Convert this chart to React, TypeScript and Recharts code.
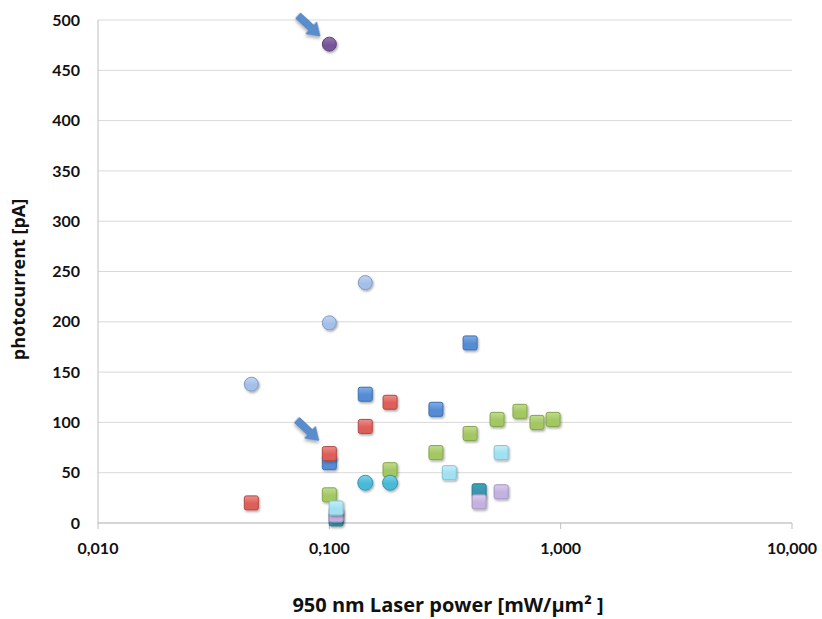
import React from 'react';
import { ScatterChart, Scatter, XAxis, YAxis, CartesianGrid, Label } from 'recharts';

// ---- data ----
const xTicks = [0.01, 0.1, 1, 10];
const yTicks = [0, 50, 100, 150, 200, 250, 300, 350, 400, 450, 500];

const purpleCircles = [{ x: 0.1, y: 476 }];
const lightBlueCircles = [
  { x: 0.046, y: 138 },
  { x: 0.1, y: 199 },
  { x: 0.143, y: 239 },
];
const blueSquares = [
  { x: 0.1, y: 60 },
  { x: 0.143, y: 128 },
  { x: 0.289, y: 113 },
  { x: 0.406, y: 179 },
];
const redSquares = [
  { x: 0.046, y: 20 },
  { x: 0.1, y: 69 },
  { x: 0.143, y: 96 },
  { x: 0.183, y: 120 },
];
const greenSquares = [
  { x: 0.1, y: 28 },
  { x: 0.183, y: 53 },
  { x: 0.289, y: 70 },
  { x: 0.406, y: 89 },
  { x: 0.531, y: 103 },
  { x: 0.667, y: 111 },
  { x: 0.79, y: 100 },
  { x: 0.927, y: 103 },
];
const cyanCircles = [
  { x: 0.143, y: 40 },
  { x: 0.183, y: 40 },
];
const tealSquares = [
  { x: 0.107, y: 4 },
  { x: 0.444, y: 32 },
];
const lavenderSquares = [
  { x: 0.107, y: 8 },
  { x: 0.444, y: 21 },
  { x: 0.553, y: 31 },
];
const lightCyanSquares = [
  { x: 0.107, y: 15 },
  { x: 0.33, y: 50 },
  { x: 0.553, y: 70 },
];
const arrowTips = [
  { x: 0.0912, y: 484 },
  { x: 0.0901, y: 82 },
];

const FONT = 'Lato, "Open Sans", sans-serif';
const TITLE_FONT = '"Open Sans", Lato, sans-serif';

const fmtX = (v: number) => v.toFixed(3).replace('.', ',');

const makeSquare = (gid: string, stroke: string) => (props: any) => {
  const { cx, cy } = props;
  if (cx == null || cy == null) return <g />;
  return (
    <rect
      x={cx - 7}
      y={cy - 7}
      width={14}
      height={14}
      rx={2}
      ry={2}
      fill={`url(#${gid})`}
      stroke={stroke}
      strokeWidth={1}
      filter="url(#mshadow)"
    />
  );
};

const makeCircle = (gid: string, stroke: string, r: number) => (props: any) => {
  const { cx, cy } = props;
  if (cx == null || cy == null) return <g />;
  return (
    <circle cx={cx} cy={cy} r={r} fill={`url(#${gid})`} stroke={stroke} strokeWidth={1} filter="url(#mshadow)" />
  );
};

const arrowShape = (props: any) => {
  const { cx, cy } = props;
  if (cx == null || cy == null) return <g />;
  const pts = '0,0 -12,-8 -12,-3.5 -30,-3.5 -30,3.5 -12,3.5 -12,8';
  return (
    <polygon
      points={pts}
      transform={`translate(${cx},${cy}) rotate(43)`}
      fill="#5a8dcc"
      stroke="#4f7fbc"
      strokeWidth={0.8}
      strokeLinejoin="round"
      filter="url(#ashadow)"
    />
  );
};

const grads: [string, string, string][] = [
  ['gPurple', '#9478ae', '#76559a'],
  ['gLightBlue', '#c3d6f3', '#a3bfea'],
  ['gBlue', '#80aee5', '#558cd4'],
  ['gRed', '#ec8f8a', '#dd5e59'],
  ['gGreen', '#c0dc90', '#a3c764'],
  ['gCyan', '#7fd2e8', '#49b9d8'],
  ['gTeal', '#3ea3ba', '#3897ad'],
  ['gLavender', '#dacdee', '#c3b1e0'],
  ['gLightCyan', '#c6eef8', '#a0e0f1'],
];

export default function App() {
  return (
    <div style={{ position: 'absolute', left: 0, top: 0, width: 822, height: 619, background: '#fff' }}>
      <ScatterChart
        width={822}
        height={619}
        margin={{ top: 20, right: 30, bottom: 0, left: 0 }}
        style={{ fontFamily: FONT }}
      >
        <defs>
          <filter id="mshadow" x="-50%" y="-50%" width="200%" height="200%">
            <feDropShadow dx="1" dy="1.5" stdDeviation="1" floodColor="#000" floodOpacity="0.35" />
          </filter>
          <filter id="ashadow" x="-50%" y="-50%" width="200%" height="200%">
            <feDropShadow dx="1.5" dy="2" stdDeviation="1.5" floodColor="#000" floodOpacity="0.3" />
          </filter>
          {grads.map(([id, top, bot]) => (
            <linearGradient key={id} id={id} x1="0" y1="0" x2="0" y2="1">
              <stop offset="0%" stopColor={top} />
              <stop offset="55%" stopColor={bot} />
              <stop offset="100%" stopColor={bot} />
            </linearGradient>
          ))}
        </defs>
        <CartesianGrid vertical={false} stroke="#d9d9d9" strokeWidth={1} />
        <XAxis
          type="number"
          dataKey="x"
          scale="log"
          domain={[0.01, 10]}
          ticks={xTicks}
          allowDataOverflow
          tickFormatter={fmtX}
          height={96}
          stroke="#bfbfbf"
          tickSize={6}
          tickMargin={14}
          tick={{ fontSize: 16, fontWeight: 700, fill: '#111', fontFamily: FONT }}
        >
          <Label
            content={(p: any) => {
              const vb = p.viewBox || {};
              return (
                <text
                  x={vb.x + vb.width / 2 + 3}
                  y={vb.y + vb.height - 7}
                  textAnchor="middle"
                  fontSize={20}
                  fontWeight={700}
                  fill="#111"
                  fontFamily={TITLE_FONT}
                >
                  950 nm Laser power [mW/µm² ]
                </text>
              );
            }}
          />
        </XAxis>
        <YAxis
          type="number"
          dataKey="y"
          domain={[0, 500]}
          ticks={yTicks}
          width={98}
          stroke="#bfbfbf"
          tickLine={false}
          tickSize={0}
          tickMargin={18}
          tick={{ fontSize: 16, fontWeight: 700, fill: '#111', fontFamily: FONT }}
        >
          <Label
            content={(p: any) => {
              const vb = p.viewBox || {};
              const x = vb.x + 25;
              const y = vb.y + vb.height / 2 + 8;
              return (
                <text
                  x={x}
                  y={y}
                  transform={`rotate(-90, ${x}, ${y})`}
                  textAnchor="middle"
                  fontSize={18}
                  fontWeight={700}
                  fill="#111"
                  fontFamily={TITLE_FONT}
                >
                  photocurrent [pA]
                </text>
              );
            }}
          />
        </YAxis>
        <Scatter name="lightBlue" data={lightBlueCircles} shape={makeCircle('gLightBlue', '#8099c2', 7)} isAnimationActive={false} />
        <Scatter name="blue" data={blueSquares} shape={makeSquare('gBlue', '#3f6fae')} isAnimationActive={false} />
        <Scatter name="red" data={redSquares} shape={makeSquare('gRed', '#b04a47')} isAnimationActive={false} />
        <Scatter name="green" data={greenSquares} shape={makeSquare('gGreen', '#86a64a')} isAnimationActive={false} />
        <Scatter name="cyan" data={cyanCircles} shape={makeCircle('gCyan', '#3795ae', 7.5)} isAnimationActive={false} />
        <Scatter name="teal" data={tealSquares} shape={makeSquare('gTeal', '#2a7b8d')} isAnimationActive={false} />
        <Scatter name="lavender" data={lavenderSquares} shape={makeSquare('gLavender', '#a595c2')} isAnimationActive={false} />
        <Scatter name="lightCyan" data={lightCyanSquares} shape={makeSquare('gLightCyan', '#85c2d2')} isAnimationActive={false} />
        <Scatter name="purple" data={purpleCircles} shape={makeCircle('gPurple', '#5e437a', 7)} isAnimationActive={false} />
        <Scatter name="arrows" data={arrowTips} shape={arrowShape} isAnimationActive={false} />
      </ScatterChart>
    </div>
  );
}
